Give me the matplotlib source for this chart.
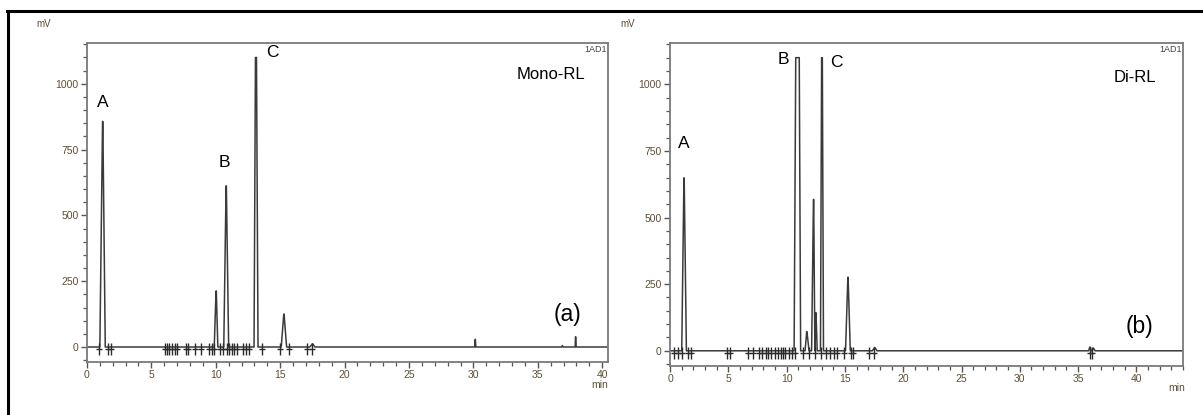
import numpy as np
import matplotlib.pyplot as plt
from matplotlib.lines import Line2D
from matplotlib.ticker import MultipleLocator

plt.rcParams['font.family'] = ['Liberation Sans', 'DejaVu Sans']

# Mono-RL chromatogram: peaks as (start, apex start, apex end, end) in min, heights in mV
mono_start = [1.00, 9.88, 10.62, 12.97, 15.08, 17.30, 30.10, 36.85, 37.90]
mono_top0 = [1.21, 10.02, 10.80, 13.08, 15.28, 17.50, 30.14, 36.90, 37.93]
mono_top1 = [1.23, 10.04, 10.82, 13.16, 15.30, 17.52, 30.15, 36.91, 37.94]
mono_end = [1.42, 10.16, 11.00, 13.28, 15.50, 17.70, 30.19, 36.96, 37.98]
mono_height = [857, 213, 612, 1100, 125, 12, 29, 5, 39]
# integration marks along the baseline
mono_marks = [0.96, 1.66, 1.84, 6.06, 6.24, 6.40, 6.58, 6.83, 7.02, 7.69, 7.87,
              8.39, 8.83, 9.50, 9.68, 9.86, 10.33, 10.59, 10.85, 11.05, 11.24,
              11.42, 11.63, 12.14, 12.35, 12.61, 13.57, 14.99, 15.70, 17.06, 17.50]

# Di-RL chromatogram
di_start = [1.00, 10.64, 11.58, 12.14, 12.43, 12.90, 15.05, 17.35, 35.90, 36.20]
di_top0 = [1.19, 10.78, 11.72, 12.30, 12.50, 13.00, 15.25, 17.55, 36.00, 36.30]
di_top1 = [1.21, 11.08, 11.74, 12.32, 12.52, 13.06, 15.27, 17.57, 36.02, 36.32]
di_end = [1.40, 11.20, 11.92, 12.42, 12.62, 13.16, 15.46, 17.75, 36.12, 36.45]
di_height = [649, 1100, 72, 568, 143, 1100, 276, 12, 14, 10]
di_marks = [0.34, 0.72, 1.00, 1.57, 1.77, 4.86, 5.15, 6.72, 7.10, 7.67, 7.87,
            8.24, 8.44, 8.64, 9.01, 9.30, 9.50, 9.67, 9.87, 10.16, 10.44, 10.73,
            11.39, 11.93, 12.39, 12.96, 13.39, 13.73, 14.02, 14.31, 14.88, 15.51,
            15.70, 17.10, 17.50, 36.00, 36.15]


def trace(start, top0, top1, end, height, tmax):
    x = [0.0]
    y = [0.0]
    for s, a, b, e, h in zip(start, top0, top1, end, height):
        x += [s, a, b, e]
        y += [0, h, h, 0]
    x.append(tmax)
    y.append(0)
    return np.array(x), np.array(y)


def draw(ax, start, top0, top1, end, height, marks, tmax):
    x, y = trace(start, top0, top1, end, height, tmax)
    ax.plot(x, y, color='#3a3a3a', lw=1.1)
    ax.vlines(marks, -30, 16, color='#2a2a2a', lw=1.0)
    ax.plot(marks, np.full(len(marks), -8), ls='none', marker='_',
            ms=4, mew=1.0, color='#2a2a2a')
    ax.set_xlim(0, tmax)
    ax.set_ylim(-57, 1155)
    ax.xaxis.set_major_locator(MultipleLocator(5))
    ax.xaxis.set_minor_locator(MultipleLocator(1))
    ax.yaxis.set_major_locator(MultipleLocator(250))
    ax.yaxis.set_minor_locator(MultipleLocator(50))
    ax.tick_params(which='both', direction='out', colors='#555555',
                   labelcolor='#5e4e36', labelsize=7.5, pad=2)
    ax.tick_params(which='major', length=4, width=1)
    ax.tick_params(which='minor', length=3, width=0.9)
    for sp in ax.spines.values():
        sp.set_color('#7a7a7a')
        sp.set_linewidth(1.3)
    ax.text(0.997, 0.995, '1AD1', transform=ax.transAxes, ha='right',
            va='top', fontsize=6.5, color='#444444')


fig = plt.figure(figsize=(12.03, 4.15), dpi=100)
ax1 = fig.add_axes([0.0723, 0.1277, 0.4331, 0.7687])
ax2 = fig.add_axes([0.5570, 0.1181, 0.4264, 0.7783])

draw(ax1, mono_start, mono_top0, mono_top1, mono_end, mono_height, mono_marks, 40.45)
draw(ax2, di_start, di_top0, di_top1, di_end, di_height, di_marks, 44.0)

# peak labels and sample names
ax1.text(1.24, 928, 'A', ha='center', va='center', fontsize=12.5)
ax1.text(10.7, 700, 'B', ha='center', va='center', fontsize=12.5)
ax1.text(14.4, 1118, 'C', ha='center', va='center', fontsize=12.5)
ax1.text(36.0, 1034, 'Mono-RL', ha='center', va='center', fontsize=12)
ax1.text(37.3, 122, '(a)', ha='center', va='center', fontsize=16.5)

ax2.text(1.2, 779, 'A', ha='center', va='center', fontsize=12.5)
ax2.text(9.7, 1094, 'B', ha='center', va='center', fontsize=12.5)
ax2.text(14.3, 1082, 'C', ha='center', va='center', fontsize=12.5)
ax2.text(39.9, 1026, 'Di-RL', ha='center', va='center', fontsize=12)
ax2.text(40.3, 90, '(b)', ha='center', va='center', fontsize=16.5)

# axis unit captions
fig.text(36 / 1203, 1 - 24 / 415, 'mV', ha='left', va='center',
         fontsize=7, color='#5e4e36')
fig.text(600 / 1203, 1 - 385 / 415, 'min', ha='center', va='center',
         fontsize=7.5, color='#5e4e36')
fig.text(620 / 1203, 1 - 24 / 415, 'mV', ha='left', va='center',
         fontsize=7, color='#5e4e36')
fig.text(1177 / 1203, 1 - 388 / 415, 'min', ha='center', va='center',
         fontsize=7.5, color='#5e4e36')

# frame around the figure
fig.add_artist(Line2D([7 / 1203, 1.0], [1 - 11 / 415, 1 - 11 / 415],
                      color='black', lw=2.2, transform=fig.transFigure))
fig.add_artist(Line2D([8 / 1203, 8 / 1203], [0.0, 1 - 11 / 415],
                      color='black', lw=2.2, transform=fig.transFigure))

fig.savefig('out.png', dpi=100)
